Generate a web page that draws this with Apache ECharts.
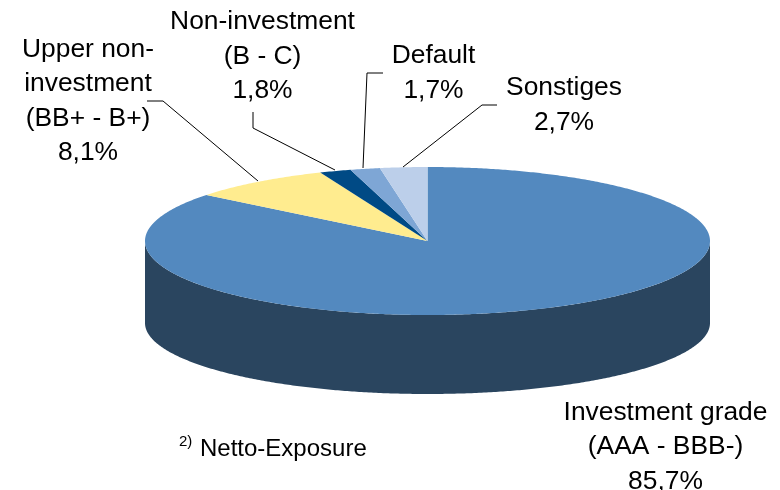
<!DOCTYPE html>
<html><head><meta charset="utf-8">
<style>html,body{margin:0;padding:0;background:#fff}#c{width:780px;height:490px}</style>
<script src="https://cdn.jsdelivr.net/npm/echarts@6/dist/echarts.min.js"></script>
</head><body><div id="c"></div>
<script>
const categories = ['Investment grade\n(AAA - BBB-)', 'Upper non-\ninvestment\n(BB+ - B+)', 'Non-investment\n(B - C)', 'Default', 'Sonstiges'];
const shares = [85.7, 8.1, 1.8, 1.7, 2.7];
const colors = ['#5389bf', '#ffec8f', '#004a85', '#7ea6d5', '#bccfea'];
const rimColors = ['#2a455f', '#b3a564', '#00345d', '#587495', '#8491a4'];
const footnote = 'Netto-Exposure';

const CX = 427.5, CY = 241, RX = 282.5, RY = 74;
const RIM_CY = 323, RIM_RY = 71;
const labelPos = [[665.5, 447], [88, 101], [262.5, 56.5], [433.5, 73], [564, 105]];
const leaders = [
  null,
  [[147, 101], [163, 101], [258, 181]],
  [[253, 112], [253, 128], [335, 170]],
  [[383, 73], [367, 73], [363, 168]],
  [[497, 105], [482, 105], [403, 167]]
];
const FONT = 'Liberation Sans, Arial, sans-serif';
const total = shares.reduce((a, b) => a + b, 0);

function pt(deg, cy, ry) {
  const a = deg * Math.PI / 180;
  return [CX + RX * Math.sin(a), cy - ry * Math.cos(a)];
}
function arc(from, to, cy, ry) {
  const n = Math.max(2, Math.ceil((to - from) * 2)), out = [];
  for (let i = 0; i <= n; i++) out.push(pt(from + (to - from) * i / n, cy, ry));
  return out;
}
function startOf(i) {
  let s = 0;
  for (let k = 0; k < i; k++) s += shares[k];
  return s / total * 360;
}
function renderRim(params, api) {
  const i = params.dataIndex;
  const s = startOf(i), e = s + api.value(0) / total * 360;
  const from = Math.max(s, 90), to = Math.min(e, 270);
  if (to <= from) return { type: 'group', children: [] };
  return {
    type: 'polygon',
    shape: { points: arc(from, to, CY, RY).concat(arc(from, to, RIM_CY, RIM_RY).reverse()) },
    style: { fill: rimColors[i] }
  };
}
function renderTop(params, api) {
  const i = params.dataIndex;
  const s = startOf(i), e = s + api.value(0) / total * 360;
  return {
    type: 'polygon',
    shape: { points: [[CX, CY]].concat(arc(s, e, CY, RY)) },
    style: { fill: colors[i] }
  };
}
function renderLabel(params, api) {
  const i = params.dataIndex;
  const children = [{
    type: 'text',
    style: {
      text: categories[i] + '\n' + api.value(0).toFixed(1).replace('.', ',') + '%',
      x: labelPos[i][0], y: labelPos[i][1],
      align: 'center', verticalAlign: 'middle',
      font: '26.4px ' + FONT, lineHeight: 34.5, fill: '#000'
    }
  }];
  if (leaders[i]) children.push({
    type: 'polyline',
    shape: { points: leaders[i] },
    style: { stroke: '#000', lineWidth: 1, fill: null }
  });
  return { type: 'group', children };
}
const data = shares.map(v => [v]);
const chart = echarts.init(document.getElementById('c'));
chart.setOption({
  animation: false,
  backgroundColor: '#fff',
  series: [
    { type: 'custom', coordinateSystem: 'none', data, renderItem: renderRim, silent: true, z: 1 },
    { type: 'custom', coordinateSystem: 'none', data, renderItem: renderTop, silent: true, z: 2 },
    { type: 'custom', coordinateSystem: 'none', data, renderItem: renderLabel, silent: true, z: 3 }
  ],
  graphic: [
    { type: 'text', left: 179, top: 434, z: 5, style: { text: '2)', font: '15px ' + FONT, fill: '#000' } },
    { type: 'text', left: 200, top: 437, z: 5, style: { text: footnote, font: '24px ' + FONT, fill: '#000' } }
  ]
});
</script></body></html>
